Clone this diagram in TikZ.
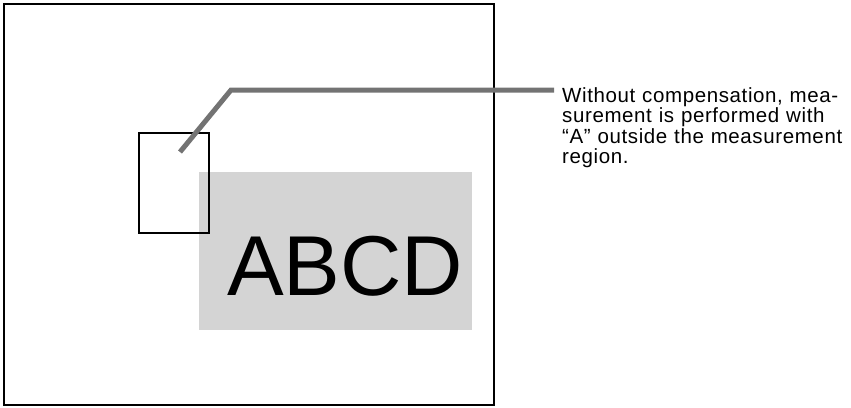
\documentclass[tikz,border=0pt]{standalone}
\usepackage{fontspec}
\setmainfont{Liberation Sans}
\newfontfamily\notefont{Liberation Sans}[LetterSpace=3]
\usepackage{xcolor}
\usepackage{tikz}
\usetikzlibrary{positioning}
\definecolor{dither}{RGB}{115,115,115}
\definecolor{shade}{RGB}{212,212,212}

\begin{document}
\begin{tikzpicture}[
  x=1pt,
  y=-1pt,
  frame/.style={
    draw=black,
    line width=1.8pt,
    inner sep=0pt
  },
  region/.style={
    fill=shade,
    draw=none
  },
  window/.style={
    draw=black,
    line width=2.4pt
  },
  leader/.style={
    dither,
    line width=5pt,
    line join=miter
  },
  note/.style={
    inner sep=0pt,
    text width=285pt,
    align=left,
    font=\notefont\fontsize{20.5}{20.5}\selectfont
  }
]

\useasboundingbox (0,0) rectangle (851,407);

\draw[frame] (4,4) rectangle (494,405);

\fill[region] (199,172) rectangle (472,330);

\node[anchor=base west, inner sep=0pt, font=\fontsize{85}{85}\selectfont] (word) at (227,295) {ABCD};

\draw[window] (139,133) rectangle (209,233);

\node[note, anchor=north west] (note) at (562,87)
{Without compensation, mea-\\
surement is performed with\\
“A” outside the measurement\\
region.};

\coordinate (tip) at (180,152);
\coordinate (bend) at (231,90);

\draw[leader] (tip) -- (bend) -- ([xshift=-8pt]bend -| note.west);

\end{tikzpicture}
\end{document}
